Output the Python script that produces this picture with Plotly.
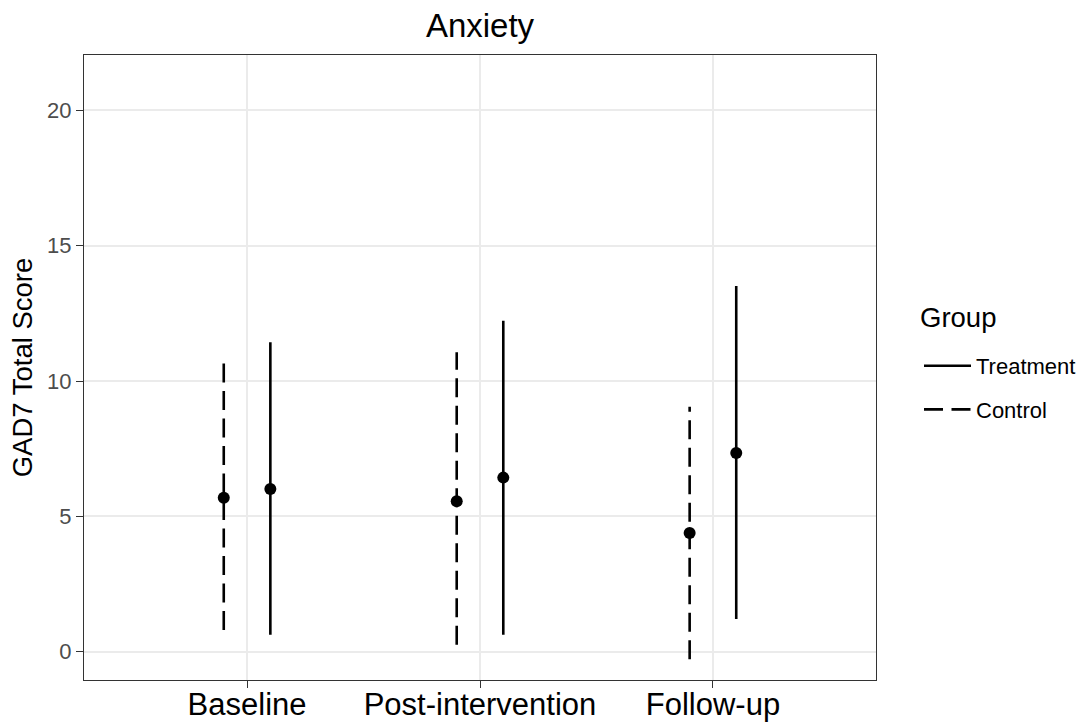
import plotly.graph_objects as go

categories = ["Baseline", "Post-intervention", "Follow-up"]
groups = ["Treatment", "Control"]
treat_mean = [6.01, 6.43, 7.34]
treat_lo = [0.62, 0.62, 1.20]
treat_hi = [11.43, 12.23, 13.51]
ctrl_mean = [5.69, 5.56, 4.38]
ctrl_lo = [0.80, 0.25, -0.28]
ctrl_hi = [10.66, 11.06, 9.05]
y_ticks = [0, 5, 10, 15, 20]

dodge = {"Treatment": 0.1, "Control": -0.1}
dashes = {"Treatment": "solid", "Control": "19px,8.5px"}
data = {
    "Treatment": (treat_mean, treat_lo, treat_hi),
    "Control": (ctrl_mean, ctrl_lo, ctrl_hi),
}

FONT = "Liberation Sans, Arial, Helvetica, sans-serif"
fig = go.Figure()

for i, g in enumerate(groups):
    mean, lo, hi = data[g]
    xs, ys = [], []
    for k in range(len(categories)):
        xp = k + dodge[g]
        xs += [xp, xp, None]
        ys += [lo[k], hi[k], None]
    fig.add_trace(go.Scatter(
        x=xs, y=ys, mode="lines", name=g, legendgroup=g,
        line=dict(color="black", width=2.6, dash=dashes[g]),
        hoverinfo="skip",
    ))
for g in groups:
    mean, lo, hi = data[g]
    fig.add_trace(go.Scatter(
        x=[k + dodge[g] for k in range(len(categories))], y=mean,
        mode="markers", showlegend=False, legendgroup=g,
        marker=dict(color="black", size=12),
    ))

PL, PR, PT, PB = 84, 876, 55, 680
PW, PH = PR - PL, PB - PT

fig.add_annotation(
    text="Group", xref="paper", yref="paper",
    x=(918 - PL) / PW, xanchor="left",
    y=(PB - 318) / PH, yanchor="middle",
    showarrow=False, font=dict(size=27.5, color="black", family=FONT),
)

fig.update_layout(
    width=1086, height=724,
    margin=dict(l=PL, r=1086 - PR, t=PT, b=724 - PB, autoexpand=False),
    paper_bgcolor="white", plot_bgcolor="white",
    font=dict(family=FONT, color="black"),
    title=dict(text="Anxiety", x=(PL + PR) / 2 / 1086, xanchor="center",
               y=1 - 25 / 724, yanchor="middle", yref="container",
               font=dict(size=33, color="black")),
    legend=dict(
        x=(919 - PL) / PW, xanchor="left", y=(PB - 345) / PH, yanchor="top",
        font=dict(size=22, color="black"),
        tracegroupgap=12, itemwidth=47,
        bgcolor="rgba(0,0,0,0)",
    ),
    showlegend=True,
)
fig.update_xaxes(
    range=[-0.7, 2.7], tickmode="array",
    tickvals=list(range(len(categories))), ticktext=categories,
    showgrid=True, gridcolor="#EBEBEB", gridwidth=2,
    zeroline=False, showline=True, linecolor="#333333", linewidth=1.3, mirror=True,
    ticks="outside", ticklen=7, tickcolor="#333333", tickwidth=1.3,
    tickfont=dict(size=31, color="black", family=FONT),
    ticklabelstandoff=-10,
    automargin=False,
)
fig.update_yaxes(
    range=[-1.05, 22.05], tickmode="array", tickvals=y_ticks,
    showgrid=True, gridcolor="#EBEBEB", gridwidth=2,
    zeroline=False, showline=True, linecolor="#333333", linewidth=1.3, mirror=True,
    ticks="outside", ticklen=7, tickcolor="#333333", tickwidth=1.3,
    tickfont=dict(size=22, color="#4D4D4D", family=FONT),
    title=dict(text="GAD7 Total Score", font=dict(size=27.5, color="black"), standoff=6),
    automargin=False,
)

fig.write_html("out.html")
